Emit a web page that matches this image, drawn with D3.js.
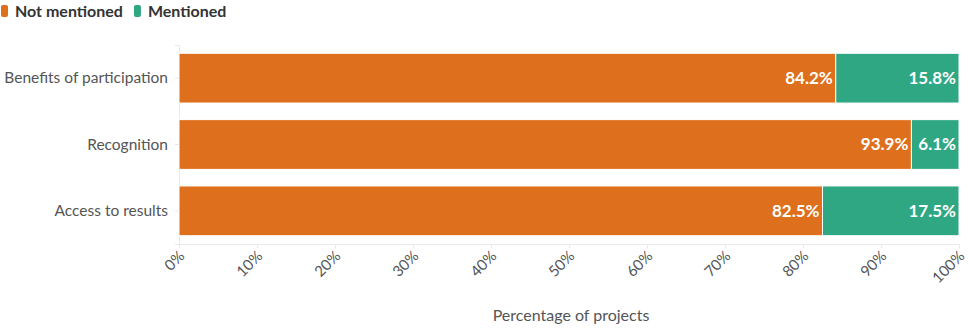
<html>
<head>
<script src="https://d3js.org/d3.v7.min.js"></script>
<style>
  body { margin: 0; background: #fff; }
  svg text { font-family: "Source Sans Pro", Lato, "Noto Sans", sans-serif; }
  .domain { stroke: #e8e8e8; }
  .tick line { stroke: #e8e8e8; }
</style>
</head>
<body>
<svg id="chart" width="969" height="329"></svg>
<script>
// data
const categories = ["Benefits of participation", "Recognition", "Access to results"];
const notMentioned = [84.2, 93.9, 82.5];
const mentioned = [15.8, 6.1, 17.5];
const seriesNames = ["Not mentioned", "Mentioned"];
const xTicks = [0, 10, 20, 30, 40, 50, 60, 70, 80, 90, 100];

const colors = ["#de6f1c", "#2fa783"];

const svg = d3.select("#chart");
const plotLeft = 179, plotRight = 959, plotTop = 45, plotBottom = 244;

const x = d3.scaleLinear().domain([0, 100]).range([plotLeft, plotRight]);
const y = d3.scaleBand().domain(categories).range([plotTop, plotBottom])
            .paddingInner(0.25).paddingOuter(0.125);

// axes
const xAxis = svg.append("g").attr("transform", "translate(0," + plotBottom + ")")
  .call(d3.axisBottom(x).tickValues(xTicks).tickSize(4).tickFormat(d => d + "%"));
xAxis.selectAll("text")
  .attr("text-anchor", "end")
  .attr("fill", "#555")
  .style("font-size", "15px")
  .attr("dy", null).attr("y", 0)
  .attr("transform", "translate(6,13) rotate(-45)");

const yAxis = svg.append("g").attr("transform", "translate(" + plotLeft + ",0)")
  .call(d3.axisLeft(y).tickSize(4).tickPadding(7));
yAxis.selectAll("text").attr("fill", "#555").style("font-size", "15.5px").attr("dy", "0.33em");

// stacked bars
const rows = categories.map((c, i) => ({ cat: c, vals: [notMentioned[i], mentioned[i]] }));
rows.forEach(r => {
  let start = 0;
  r.vals.forEach((v, j) => {
    svg.append("rect")
      .attr("x", x(start))
      .attr("y", y(r.cat))
      .attr("width", x(start + v) - x(start))
      .attr("height", y.bandwidth())
      .attr("fill", colors[j])
      .attr("stroke", "#fff")
      .attr("stroke-width", 1);
    svg.append("text")
      .attr("x", x(start + v) - 3)
      .attr("y", y(r.cat) + y.bandwidth() / 2)
      .attr("dy", "0.35em")
      .attr("text-anchor", "end")
      .attr("fill", "#fff")
      .attr("stroke", colors[j])
      .attr("stroke-width", 3)
      .attr("paint-order", "stroke")
      .style("font-size", "17px")
      .style("font-weight", "bold")
      .text(v.toFixed(1) + "%");
    start += v;
  });
});

// axis title
svg.append("text")
  .attr("x", (plotLeft + plotRight) / 2 + 2)
  .attr("y", 321)
  .attr("text-anchor", "middle")
  .attr("fill", "#555")
  .style("font-size", "16px")
  .text("Percentage of projects");

// legend
let lx = 1;
seriesNames.forEach((s, i) => {
  svg.append("rect").attr("x", lx).attr("y", 5).attr("width", 7).attr("height", 12)
    .attr("rx", 2).attr("fill", colors[i]);
  const t = svg.append("text").attr("x", lx + 14).attr("y", 17)
    .attr("fill", "#333").style("font-size", "16px").style("font-weight", "bold").text(s);
  lx += 14 + t.node().getComputedTextLength() + 11;
});
</script>
</body>
</html>
